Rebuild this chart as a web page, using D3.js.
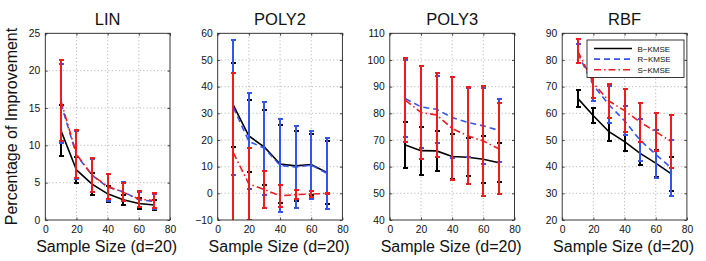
<!DOCTYPE html>
<html><head><meta charset="utf-8">
<script src="https://cdn.jsdelivr.net/npm/d3@7"></script>
<style>body{margin:0;background:#fff}svg{display:block}text{font-family:"Liberation Sans",Arial,sans-serif}</style>
</head><body><svg id="c" width="706" height="261"></svg>
<script>
const xValues = [10, 20, 30, 40, 50, 60, 70];
const xTicks = [0, 20, 40, 60, 80];
const panelTitles = ["LIN", "POLY2", "POLY3", "RBF"];
const seriesNames = ["B\u2212KMSE", "R\u2212KMSE", "S\u2212KMSE"];

const linTicks = [0, 5, 10, 15, 20, 25];
const poly2Ticks = [-10, 0, 10, 20, 30, 40, 50, 60];
const poly3Ticks = [40, 50, 60, 70, 80, 90, 100, 110];
const rbfTicks = [20, 30, 40, 50, 60, 70, 80, 90];

const linB = [12.0, 6.7, 4.8, 3.5, 2.7, 2.2, 2.0];
const linBErr = [3.4, 1.8, 1.5, 1.1, 0.7, 0.7, 0.7];
const linR = [15.6, 8.7, 6.0, 4.4, 3.8, 2.7, 2.5];
const linRErr = [5.3, 3.2, 2.2, 1.8, 1.3, 1.0, 1.0];
const linS = [16.0, 8.8, 6.0, 4.5, 3.7, 2.8, 2.6];
const linSErr = [5.4, 3.2, 2.3, 1.7, 1.2, 1.05, 1.0];

const poly2B = [33.1, 21.5, 17.3, 11.0, 10.3, 10.8, 7.8];
const poly2BErr = [15.8, 13.5, 14.1, 14.8, 13.2, 11.3, 11.7];
const poly2R = [32.2, 19.5, 16.9, 10.5, 9.8, 10.6, 7.5];
const poly2RErr = [25.3, 18.0, 17.5, 17.5, 15.3, 12.7, 13.2];
const poly2S = [15.3, 3.5, 1.4, -0.9, -0.5, -0.3, 0.0];
const poly2SErr = [29.7, 13.4, 7.0, 4.1, 1.6, 1.0, 0.3];

const poly3B = [68.1, 66.0, 65.9, 63.8, 63.5, 62.8, 61.5];
const poly3BErr = [8.5, 9.0, 7.5, 8.6, 7.1, 8.8, 7.4];
const poly3R = [85.5, 82.4, 81.5, 78.4, 76.6, 75.3, 73.6];
const poly3RErr = [14.5, 15.3, 12.6, 15.3, 12.9, 14.3, 11.9];
const poly3S = [84.9, 80.3, 79.4, 74.3, 71.6, 69.6, 66.7];
const poly3SErr = [15.8, 17.6, 15.6, 19.2, 18.1, 20.6, 17.1];

const rbfB = [65.6, 59.1, 53.1, 49.4, 45.0, 41.3, 37.3];
const rbfBErr = [3.1, 2.9, 3.4, 3.7, 4.3, 5.0, 6.4];
const rbfR = [82.5, 70.5, 63.2, 57.2, 49.9, 44.6, 39.5];
const rbfRErr = [3.5, 5.9, 7.0, 5.5, 7.8, 9.0, 10.4];
const rbfS = [83.3, 71.3, 64.6, 61.0, 56.7, 53.1, 49.4];
const rbfSErr = [4.6, 5.4, 6.3, 8.0, 7.3, 7.1, 9.8];

const panels = [
  {title: panelTitles[0], ticks: linTicks, series: [[linB, linBErr], [linR, linRErr], [linS, linSErr]]},
  {title: panelTitles[1], ticks: poly2Ticks, series: [[poly2B, poly2BErr], [poly2R, poly2RErr], [poly2S, poly2SErr]]},
  {title: panelTitles[2], ticks: poly3Ticks, series: [[poly3B, poly3BErr], [poly3R, poly3RErr], [poly3S, poly3SErr]]},
  {title: panelTitles[3], ticks: rbfTicks, series: [[rbfB, rbfBErr], [rbfR, rbfRErr], [rbfS, rbfSErr]]}
];

const colors = ["#000000", "#3355ee", "#ee1c1c"];
const dashes = [null, "6,4", "7,3,1.5,3"];
const lefts = [45.3, 217.7, 389.8, 562.2];
const W = 124.7, plotTop = 33.3, plotBottom = 220;

const svg = d3.select("#c");
const fmt = v => v < 0 ? "\u2212" + Math.abs(v) : String(v);

panels.forEach((p, pi) => {
  const x0 = lefts[pi];
  const x = d3.scaleLinear().domain([0, 80]).range([x0, x0 + W]);
  const y = d3.scaleLinear().domain([p.ticks[0], p.ticks[p.ticks.length - 1]]).range([plotBottom, plotTop]);
  const g = svg.append("g");
  const cid = "clip" + pi;
  svg.append("clipPath").attr("id", cid).append("rect")
    .attr("x", x0).attr("y", plotTop).attr("width", W).attr("height", plotBottom - plotTop);

  g.selectAll(".gx").data(xTicks.slice(1, -1)).enter().append("line")
    .attr("x1", d => x(d)).attr("x2", d => x(d)).attr("y1", plotTop).attr("y2", plotBottom)
    .attr("stroke", "#8a8a8a").attr("stroke-width", 0.7).attr("stroke-dasharray", "1,2.5");
  g.selectAll(".gy").data(p.ticks.slice(1, -1)).enter().append("line")
    .attr("y1", d => y(d)).attr("y2", d => y(d)).attr("x1", x0).attr("x2", x0 + W)
    .attr("stroke", "#8a8a8a").attr("stroke-width", 0.7).attr("stroke-dasharray", "1,2.5");

  const ax = d3.axisBottom(x).tickValues(xTicks).tickSize(-2.5).tickPadding(6).tickFormat(fmt);
  const ay = d3.axisLeft(y).tickValues(p.ticks).tickSize(-2.5).tickPadding(5).tickFormat(fmt);
  const axT = d3.axisTop(x).tickValues(xTicks).tickSize(-2.5).tickFormat("");
  const ayR = d3.axisRight(y).tickValues(p.ticks).tickSize(-2.5).tickFormat("");
  [[ax, `translate(0,${plotBottom})`], [ay, `translate(${x0},0)`], [axT, `translate(0,${plotTop})`], [ayR, `translate(${x0 + W},0)`]]
    .forEach(([a, t]) => {
      const gg = g.append("g").attr("transform", t).call(a);
      gg.select(".domain").remove();
      gg.selectAll("line").attr("stroke", "#222").attr("stroke-width", 0.8);
      gg.selectAll("text").attr("font-size", 10.3).attr("fill", "#111")
        .attr("font-family", "'Liberation Sans',Arial,sans-serif");
    });

  const dg = svg.append("g").attr("clip-path", `url(#${cid})`);
  p.series.forEach(([m, e], si) => {
    const pts = xValues.map((xv, i) => ({x: xv, m: m[i], e: e[i]}));
    const eg = dg.append("g").attr("shape-rendering", "crispEdges");
    pts.forEach(d => {
      const cx = Math.round(x(d.x));
      eg.append("line").attr("x1", cx).attr("x2", cx).attr("y1", y(d.m - d.e)).attr("y2", y(d.m + d.e))
        .attr("stroke", colors[si]).attr("stroke-width", 2);
      [d.m - d.e, d.m + d.e].forEach(v => {
        const yy = Math.round(y(v));
        eg.append("line").attr("x1", cx - 2.5).attr("x2", cx + 2.5).attr("y1", yy).attr("y2", yy)
          .attr("stroke", colors[si]).attr("stroke-width", 2);
      });
    });
    const line = d3.line().x(d => x(d.x)).y(d => y(d.m));
    const path = dg.append("path").datum(pts).attr("d", line).attr("fill", "none")
      .attr("stroke", colors[si]).attr("stroke-width", 1.6);
    if (dashes[si]) path.attr("stroke-dasharray", dashes[si]);
  });

  svg.append("rect").attr("x", x0).attr("y", plotTop).attr("width", W).attr("height", plotBottom - plotTop)
    .attr("fill", "none").attr("stroke", "#222").attr("stroke-width", 0.9);

  svg.append("text").attr("x", x0 + W / 2).attr("y", 24.5).attr("text-anchor", "middle")
    .attr("font-size", 16.5).attr("fill", "#111").text(p.title);
  svg.append("text").attr("x", x0 + W / 2 - 1).attr("y", 252).attr("text-anchor", "middle")
    .attr("font-size", 16).attr("fill", "#111").text("Sample Size (d=20)");
});

svg.append("text").attr("transform", "translate(17,126.5) rotate(-90)").attr("text-anchor", "middle")
  .attr("font-size", 16).attr("fill", "#111").text("Percentage of Improvement");

const lg = svg.append("g");
lg.append("rect").attr("x", 587).attr("y", 40).attr("width", 97).attr("height", 37.5)
  .attr("fill", "#fff").attr("stroke", "#222").attr("stroke-width", 0.9);
seriesNames.forEach((n, i) => {
  const yy = 48.5 + i * 10.6;
  const l = lg.append("line").attr("x1", 594).attr("x2", 632).attr("y1", yy).attr("y2", yy)
    .attr("stroke", colors[i]).attr("stroke-width", 1.6);
  if (dashes[i]) l.attr("stroke-dasharray", dashes[i]);
  lg.append("text").attr("x", 637.5).attr("y", yy + 3).attr("font-size", 8).attr("fill", "#111").text(n);
});
</script></body></html>
